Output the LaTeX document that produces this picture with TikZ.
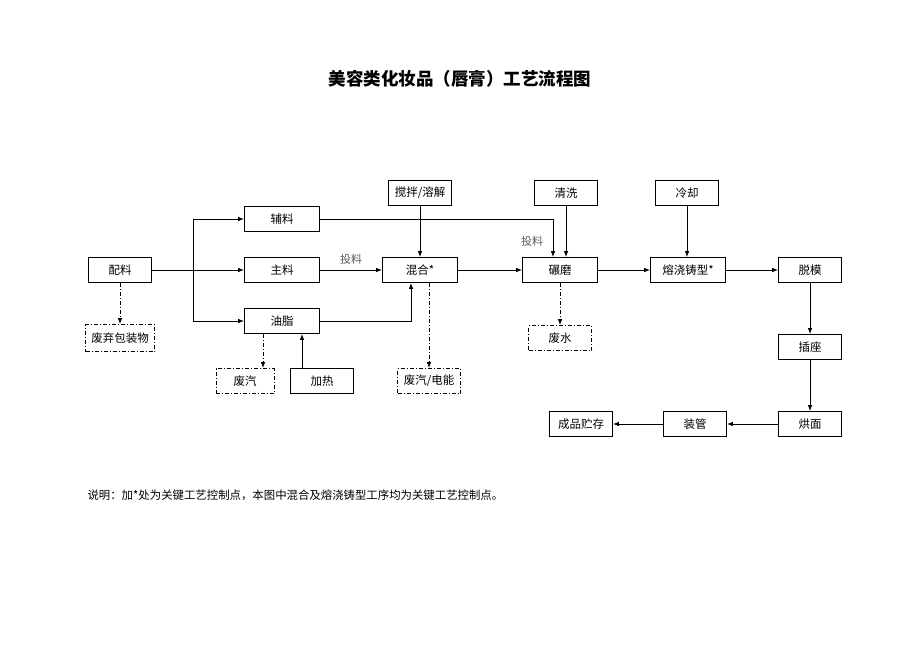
\documentclass[tikz,border=0pt]{standalone}
\usepackage{fontspec}
\setmainfont{Noto Sans CJK SC}
\usetikzlibrary{arrows.meta}

\begin{document}
\begin{tikzpicture}[x=1pt, y=-1pt,
  box/.style={draw, line width=.8pt, minimum height=25pt, inner sep=0pt, font=\fontsize{11.5}{13}\selectfont},
  widebox/.style={box, minimum width=75pt},
  smallbox/.style={box, minimum width=63pt},
  wastebox/.style={smallbox, dash pattern=on 4pt off 2pt on 1pt off 2pt},
  flow/.style={-{Latex[length=6pt,width=4.5pt]}, line width=.8pt},
  wasteflow/.style={flow, dash pattern=on 4pt off 2pt on 1pt off 2pt},
  feed/.style={text=black!65, font=\fontsize{11}{13}\selectfont}]

\useasboundingbox (0,0) rectangle (920,651);

\node [font=\fontsize{17.5}{20}\selectfont\bfseries] (title) at (460,79) {美容类化妆品（唇膏）工艺流程图};

\node [smallbox] (peiliao) at (120,270) {配料};
\node [wastebox, minimum width=69pt, minimum height=27pt] (baozhuang) at (120,338) {废弃包装物};
\node [widebox] (fuliao) at (282,219) {辅料};
\node [widebox] (zhuliao) at (282,270) {主料};
\node [widebox] (youzhi) at (282,321) {油脂};
\node [wastebox, minimum width=58pt] (feiqi) at (245,381) {废汽};
\node [smallbox] (jiare) at (322,381) {加热};
\node [smallbox] (jiaoban) at (420,193) {搅拌/溶解};
\node [widebox] (hunhe) at (420,270) {混合*};
\node [wastebox] (dianneng) at (429,381) {废汽/电能};
\node [smallbox] (qingxi) at (566,193) {清洗};
\node [widebox] (nianmo) at (560,270) {碾磨};
\node [wastebox] (feishui) at (560,338) {废水};
\node [smallbox] (lengque) at (687,193) {冷却};
\node [widebox] (zhuxing) at (688,270) {熔浇铸型*};
\node [smallbox] (tuomo) at (810,270) {脱模};
\node [smallbox] (chazuo) at (810,347) {插座};
\node [smallbox] (hongmian) at (810,424) {烘面};
\node [smallbox] (zhuangguan) at (695,424) {装管};
\node [smallbox] (zhucun) at (581,424) {成品贮存};

\coordinate (fenliu) at (193,270);
\draw [line width=.8pt] (peiliao) -- (fenliu);
\draw [flow] (fenliu) |- (fuliao);
\draw [flow] (fenliu) -- (zhuliao);
\draw [flow] (fenliu) |- (youzhi);

\draw [flow] (zhuliao) -- node [feed, above, yshift=2pt] {投料} (hunhe);
\draw [flow] (fuliao.east) -| ([xshift=-7pt]nianmo.north);
\node [feed] (touliao) at (532,241) {投料};
\draw [flow] (youzhi.east) -| ([xshift=-9pt]hunhe.south);
\draw [flow] ([xshift=-20pt]jiare.north) -- ([xshift=-20pt]jiare.north |- youzhi.south);
\draw [flow] (jiaoban) -- (hunhe);
\draw [flow] (qingxi.south) -- (qingxi.south |- nianmo.north);
\draw [flow] (lengque.south) -- (lengque.south |- zhuxing.north);

\draw [flow] (hunhe) -- (nianmo);
\draw [flow] (nianmo) -- (zhuxing);
\draw [flow] (zhuxing) -- (tuomo);
\draw [flow] (tuomo) -- (chazuo);
\draw [flow] (chazuo) -- (hongmian);
\draw [flow] (hongmian) -- (zhuangguan);
\draw [flow] (zhuangguan) -- (zhucun);

\draw [wasteflow] (peiliao) -- (baozhuang);
\draw [wasteflow] ([xshift=-19pt]youzhi.south) -- ([xshift=-19pt]youzhi.south |- feiqi.north);
\draw [wasteflow] (hunhe.south -| dianneng) -- (dianneng);
\draw [wasteflow] (nianmo) -- (feishui);

\node [anchor=west, font=\fontsize{11.4}{13}\selectfont] (shuoming) at (84,495) {说明：加*处为关键工艺控制点，本图中混合及熔浇铸型工序均为关键工艺控制点。};

\end{tikzpicture}
\end{document}
